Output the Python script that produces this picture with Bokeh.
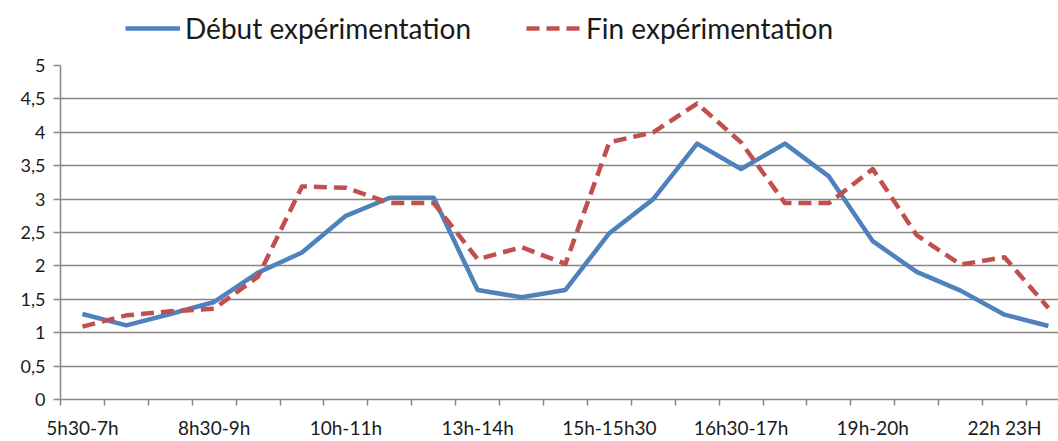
from bokeh.plotting import figure
from bokeh.layouts import column
from bokeh.models import (Legend, LegendItem, FixedTicker, CustomJSTickFormatter,
                          Range1d)
from bokeh.embed import file_html
from bokeh.resources import INLINE

# ---- data ----
categories = ["5h30-7h", "7h-8h", "8h-8h30", "8h30-9h", "9h-9h30", "9h30-10h",
              "10h-11h", "11h-12h", "12h-13h", "13h-14h", "14h-14h30", "14h30-15h",
              "15h-15h30", "15h30-16h", "16h-16h30", "16h30-17h", "17h-18h", "18h-19h",
              "19h-20h", "20h-21h", "21h-22h", "22h 23H", "23h-24h"]
debut = [1.28, 1.11, 1.28, 1.46, 1.9, 2.2, 2.75, 3.02, 3.02, 1.64, 1.53, 1.64,
         2.49, 3.0, 3.83, 3.45, 3.83, 3.34, 2.37, 1.91, 1.63, 1.27, 1.1]
fin = [1.09, 1.26, 1.32, 1.36, 1.84, 3.19, 3.17, 2.94, 2.94, 2.1, 2.28, 2.03,
       3.85, 4.0, 4.43, 3.85, 2.94, 2.94, 3.45, 2.46, 2.02, 2.13, 1.37]
label_every = 3
y_ticks = [0, 0.5, 1, 1.5, 2, 2.5, 3, 3.5, 4, 4.5, 5]
series_names = ["Début expérimentation", "Fin expérimentation"]

xs = list(range(len(categories)))
BLUE = "#4F81BD"
RED = "#C0504D"
GRID = "#868686"
FONT = "Lato"
TEXT = "#1a1a1a"

W = 1058
LEG_H = 50
MAIN_H = 391

# ---- main chart ----
p = figure(width=W, height=MAIN_H, output_backend="svg", toolbar_location=None,
           x_range=Range1d(-0.5, 22.23), y_range=Range1d(0, 5),
           min_border_left=60, min_border_right=0, min_border_top=15,
           min_border_bottom=42)
p.outline_line_color = None

line_style = [dict(line_color=BLUE, line_width=4.5, line_join="round"),
              dict(line_color=RED, line_width=4.5, line_dash="13 7", line_join="round")]
p.line(xs, debut, **line_style[0])
p.line(xs, fin, **line_style[1])

xa = p.xaxis[0]
xa.ticker = FixedTicker(ticks=xs[::label_every],
                        minor_ticks=[i - 0.5 for i in range(len(categories) + 1)])
xa.major_label_overrides = {i: categories[i] for i in xs[::label_every]}
xa.major_tick_out = 0
xa.major_tick_in = 0
xa.minor_tick_out = 6
xa.minor_tick_in = 0
xa.minor_tick_line_color = GRID
xa.minor_tick_line_width = 1.5
xa.axis_line_color = GRID
xa.axis_line_width = 1.5
xa.major_label_text_font = FONT
xa.major_label_text_font_size = "19px"
xa.major_label_text_color = TEXT
xa.major_label_standoff = 10

ya = p.yaxis[0]
ya.ticker = FixedTicker(ticks=y_ticks)
ya.formatter = CustomJSTickFormatter(code="return tick.toString().replace('.', ',');")
ya.major_tick_out = 7
ya.major_tick_in = 0
ya.minor_tick_out = 0
ya.minor_tick_in = 0
ya.major_tick_line_color = GRID
ya.major_tick_line_width = 1.5
ya.axis_line_color = GRID
ya.axis_line_width = 1.5
ya.major_label_text_font = FONT
ya.major_label_text_font_size = "18px"
ya.major_label_text_color = TEXT
ya.major_label_standoff = 8

p.xgrid.grid_line_color = None
p.ygrid.ticker = FixedTicker(ticks=y_ticks)
p.ygrid.grid_line_color = GRID
p.ygrid.grid_line_width = 1.5

# ---- legend strip ----
lg = figure(width=W, height=LEG_H, output_backend="svg", toolbar_location=None,
            x_range=Range1d(0, 1), y_range=Range1d(0, 1),
            min_border_left=0, min_border_right=0, min_border_top=0,
            min_border_bottom=0)
lg.axis.visible = False
lg.grid.visible = False
lg.outline_line_color = None
# legend proxies (kept outside the visible range, only their style is used)
d1 = lg.line([5, 6], [5, 6], **line_style[0])
d2 = lg.line([5, 6], [5, 6], **line_style[1])

legend = Legend(items=[LegendItem(label=series_names[0], renderers=[d1]),
                       LegendItem(label=series_names[1], renderers=[d2])],
                orientation="horizontal", location=(65, 5))
legend.label_text_font = FONT
legend.label_text_font_size = "28px"
legend.label_text_color = TEXT
legend.glyph_width = 55
legend.glyph_height = 30
legend.label_standoff = 5
legend.spacing = 55
legend.padding = 0
legend.margin = 0
legend.border_line_color = None
legend.background_fill_alpha = 0
lg.add_layout(legend)

layout = column(lg, p, spacing=0)
html = file_html(layout, INLINE)
open("out.html", "w").write(html)
